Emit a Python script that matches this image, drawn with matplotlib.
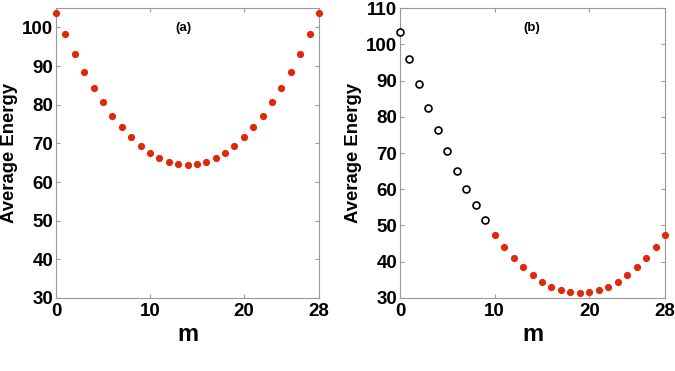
import matplotlib
matplotlib.use("Agg")
import matplotlib.pyplot as plt

m = list(range(29))

# panel (a): all filled red
energy_a = [103.7, 98.2, 93.2, 88.6, 84.4, 80.6, 77.2, 74.2, 71.6, 69.4,
            67.6, 66.3, 65.1, 64.6, 64.5, 64.6, 65.1, 66.3, 67.6, 69.4,
            71.6, 74.2, 77.2, 80.6, 84.4, 88.6, 93.2, 98.2, 103.7]

# panel (b): open circles for m = 0..9, filled red for m = 10..28
m_b_open = list(range(0, 10))
energy_b_open = [103.5, 96.1, 89.1, 82.5, 76.3, 70.6, 65.1, 60.2, 55.6, 51.4]
m_b_fill = list(range(10, 29))
energy_b_fill = [47.5, 44.1, 41.1, 38.6, 36.3, 34.5, 33.1, 32.1, 31.5, 31.3,
                 31.5, 32.1, 33.1, 34.5, 36.3, 38.6, 41.1, 44.1, 47.5]

xticks = [0, 10, 20, 28]
yticks_a = [30, 40, 50, 60, 70, 80, 90, 100]
yticks_b = [30, 40, 50, 60, 70, 80, 90, 100, 110]

plt.rcParams['font.family'] = ['Liberation Sans', 'DejaVu Sans']
plt.rcParams['font.weight'] = 'bold'

red = '#dc2a0a'
spine_col = '#999999'

fig = plt.figure(figsize=(6.75, 3.71), dpi=100)
ax1 = fig.add_axes([0.083, 0.197, 0.3896, 0.781])
ax2 = fig.add_axes([0.5926, 0.197, 0.3926, 0.781])

ax1.plot(m, energy_a, 'o', color=red, markersize=5.2, markeredgewidth=0, clip_on=False, zorder=5)
ax2.plot(m_b_open, energy_b_open, 'o', markerfacecolor='white', markeredgecolor='black',
         markersize=5, markeredgewidth=1.2, clip_on=False, zorder=5)
ax2.plot(m_b_fill, energy_b_fill, 'o', color=red, markersize=5.2, markeredgewidth=0, clip_on=False, zorder=5)

for ax, yt, ylim, lab in [(ax1, yticks_a, (30, 105), '(a)'), (ax2, yticks_b, (30, 110), '(b)')]:
    ax.set_xlim(0, 28)
    ax.set_ylim(*ylim)
    ax.set_xticks(xticks)
    ax.set_yticks(yt)
    ax.tick_params(direction='in', top=True, right=True, length=3, width=0.8,
                   color=spine_col, labelsize=13.5)
    ax.tick_params(axis='x', pad=4)
    ax.tick_params(axis='y', pad=2)
    for s in ax.spines.values():
        s.set_color(spine_col)
        s.set_linewidth(0.8)
    for t in ax.get_xticklabels() + ax.get_yticklabels():
        t.set_fontweight('bold')
    ax.set_ylabel('Average Energy', fontsize=13.3, fontweight='bold')
    ax.yaxis.set_label_coords(-0.145, 0.5)
    ax.set_xlabel('m', fontsize=17, fontweight='bold')
    ax.xaxis.set_label_coords(0.5, -0.085)
    ax.text(0.485 if ax is ax1 else 0.497, 0.93, lab, transform=ax.transAxes,
            ha='center', va='center', fontsize=9.5, fontweight='bold')

fig.savefig('out.png', dpi=100)
